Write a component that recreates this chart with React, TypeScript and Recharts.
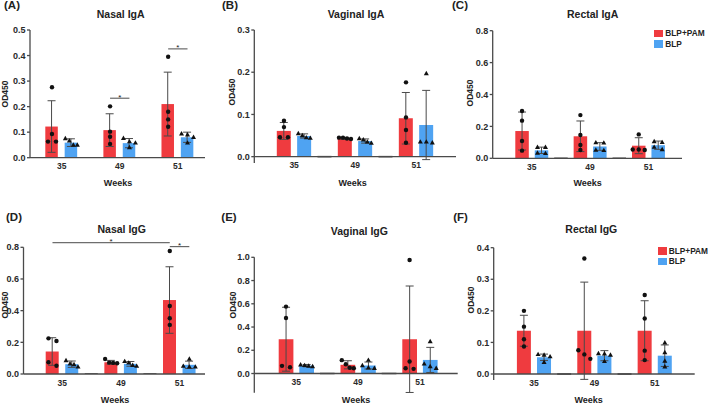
import React from 'react';
import { ComposedChart, Bar, Scatter, XAxis, YAxis, ErrorBar, ReferenceLine } from 'recharts';

const weeks = ['35', '49', '51'];
const groupNames = ['BLP+PAM', 'BLP'];

// (A) Nasal IgA
const nasalIgaPam = [0.122, 0.108, 0.21];
const nasalIgaPamSd = [0.101, 0.064, 0.125];
const nasalIgaBlp = [0.059, 0.057, 0.08];
const nasalIgaBlpSd = [0.015, 0.018, 0.02];
const nasalIgaPamPts = [[0.276, 0.093, 0.063, 0.063], [0.201, 0.102, 0.082, 0.054], [0.395, 0.18, 0.15, 0.121]];
const nasalIgaBlpPts = [[0.075, 0.066, 0.05, 0.05], [0.076, 0.063, 0.058, 0.04], [0.094, 0.09, 0.08, 0.058]];
const nasalIgaSig = [
  { from: '49|pam', to: '49|blp', y: 0.233 },
  { from: '51|pam', to: '51|blp', y: 0.426 },
];

// (B) Vaginal IgA
const vaginalIgaPam = [0.061, 0.043, 0.091];
const vaginalIgaPamSd = [0.02, 0.002, 0.061];
const vaginalIgaBlp = [0.049, 0.037, 0.075];
const vaginalIgaBlpSd = [0.005, 0.005, 0.082];
const vaginalIgaPamPts = [[0.085, 0.07, 0.046, 0.046], [0.045, 0.045, 0.043, 0.042], [0.176, 0.093, 0.063, 0.033]];
const vaginalIgaBlpPts = [[0.055, 0.05, 0.045, 0.044], [0.043, 0.04, 0.035, 0.032], [0.197, 0.035, 0.035, 0.033]];

// (C) Rectal IgA
const rectalIgaPam = [0.171, 0.138, 0.079];
const rectalIgaPamSd = [0.119, 0.096, 0.05];
const rectalIgaBlp = [0.05, 0.074, 0.082];
const rectalIgaBlpSd = [0.02, 0.024, 0.026];
const rectalIgaPamPts = [[0.297, 0.236, 0.108, 0.048], [0.271, 0.146, 0.083, 0.052], [0.15, 0.055, 0.055, 0.052]];
const rectalIgaBlpPts = [[0.069, 0.069, 0.033, 0.031], [0.098, 0.097, 0.052, 0.05], [0.105, 0.1, 0.07, 0.055]];

// (D) Nasal IgG
const nasalIggPam = [0.142, 0.074, 0.467];
const nasalIggPamSd = [0.087, 0.012, 0.21];
const nasalIggBlp = [0.062, 0.064, 0.058];
const nasalIggBlpSd = [0.02, 0.015, 0.023];
const nasalIggPamPts = [[0.225, 0.208, 0.074, 0.052], [0.095, 0.072, 0.07, 0.068], [0.777, 0.429, 0.352, 0.31]];
const nasalIggBlpPts = [[0.085, 0.065, 0.06, 0.045], [0.08, 0.07, 0.055, 0.05], [0.095, 0.05, 0.045, 0.045]];
const nasalIggSig = [
  { from: '35|pam', to: '51|pam', y: 0.829 },
  { from: '51|pam', to: '51|blp', y: 0.804 },
];

// (E) Vaginal IgG
const vaginalIggPam = [0.295, 0.075, 0.295];
const vaginalIggPamSd = [0.275, 0.035, 0.458];
const vaginalIggBlp = [0.068, 0.069, 0.117];
const vaginalIggBlpSd = [0.01, 0.03, 0.108];
const vaginalIggPamPts = [[0.576, 0.478, 0.066, 0.054], [0.115, 0.08, 0.05, 0.046], [0.977, 0.103, 0.046, 0.04]];
const vaginalIggBlpPts = [[0.075, 0.07, 0.065, 0.06], [0.115, 0.069, 0.05, 0.046], [0.275, 0.083, 0.06, 0.046]];

// (F) Rectal IgG
const rectalIggPam = [0.137, 0.137, 0.137];
const rectalIggPamSd = [0.049, 0.154, 0.095];
const rectalIggBlp = [0.053, 0.058, 0.058];
const rectalIggBlpSd = [0.01, 0.016, 0.034];
const rectalIggPamPts = [[0.2, 0.15, 0.11, 0.087], [0.366, 0.075, 0.062, 0.048], [0.25, 0.176, 0.074, 0.044]];
const rectalIggBlpPts = [[0.062, 0.06, 0.055, 0.037], [0.065, 0.064, 0.06, 0.04], [0.099, 0.068, 0.041, 0.023]];

const RED = '#EF3B3F';
const BLUE = '#4FA3F2';
const INK = '#4a4a4a';
const FONT = '"Liberation Sans", Arial, sans-serif';

const buildRows = (pam: number[], pamSd: number[], blp: number[], blpSd: number[]) =>
  weeks.flatMap((w, i) => {
    const r: any[] = [
      { slot: `${w}|pam`, label: w, kind: 'pam', mean: pam[i], err: pamSd[i] },
      { slot: `${w}|blp`, kind: 'blp', mean: blp[i], err: blpSd[i] },
    ];
    if (i < weeks.length - 1) r.push({ slot: `${w}|gap`, kind: 'gap', mean: 0 });
    return r;
  });

// spread points that sit at nearly the same height
const buildPoints = (pamPts: number[][], blpPts: number[][], span: number) => {
  const out: any[] = [];
  weeks.forEach((w, i) => {
    [['pam', pamPts[i]], ['blp', blpPts[i]]].forEach(([kind, vals]: any) => {
      const sorted = [...vals].sort((a, b) => b - a);
      let cluster: number[] = [];
      const flush = () => {
        const n = cluster.length;
        const gap = n === 2 ? 8 : n > 1 ? 12 / (n - 1) : 0;
        cluster.forEach((v, j) => out.push({ slot: `${w}|${kind}`, kind, v, dx: (j - (n - 1) / 2) * gap }));
        cluster = [];
      };
      sorted.forEach((v) => {
        if (cluster.length && cluster[cluster.length - 1] - v > span * 0.035) flush();
        cluster.push(v);
      });
      flush();
    });
  });
  return out;
};

const panels = [
  {
    key: 'A', title: 'Nasal IgA', domain: [0, 0.5], ticks: [0, 0.1, 0.2, 0.3, 0.4, 0.5],
    rows: buildRows(nasalIgaPam, nasalIgaPamSd, nasalIgaBlp, nasalIgaBlpSd),
    pts: buildPoints(nasalIgaPamPts, nasalIgaBlpPts, 0.5), sig: nasalIgaSig,
    box: { left: 0, top: 0, w: 236, h: 200 }, x0: 30, x1: 205, yTop: 30, yBot: 157.7, padL: 12.3, padR: 7.8, barW: 12.5,
    letter: [12, 6], titlePos: [120.7, 14], yLab: [5, 94], weeksPos: [118, 183],
  },
  {
    key: 'B', title: 'Vaginal IgA', domain: [-0.015, 0.3], ticks: [0, 0.1, 0.2, 0.3],
    rows: buildRows(vaginalIgaPam, vaginalIgaPamSd, vaginalIgaBlp, vaginalIgaBlpSd),
    pts: buildPoints(vaginalIgaPamPts, vaginalIgaBlpPts, 0.3), sig: [],
    box: { left: 236, top: 0, w: 236, h: 200 }, x0: 254.3, x1: 456, yTop: 30, yBot: 163, padL: 19.5, padR: 19.5, barW: 14,
    letter: [230, 6], titlePos: [356, 14], yLab: [232, 92], weeksPos: [352.7, 183],
  },
  {
    key: 'C', title: 'Rectal IgA', domain: [0, 0.8], ticks: [0, 0.2, 0.4, 0.6, 0.8],
    rows: buildRows(rectalIgaPam, rectalIgaPamSd, rectalIgaBlp, rectalIgaBlpSd),
    pts: buildPoints(rectalIgaPamPts, rectalIgaBlpPts, 0.8), sig: [],
    box: { left: 472, top: 0, w: 237, h: 200 }, x0: 492.7, x1: 682, yTop: 30.7, yBot: 158.3, padL: 19.6, padR: 14.1, barW: 13.5,
    letter: [460, 6], titlePos: [592.7, 14], yLab: [470, 93], weeksPos: [587.7, 183.3], legend: [654.3, 29.3],
  },
  {
    key: 'D', title: 'Nasal IgG', domain: [0, 0.8], ticks: [0, 0.2, 0.4, 0.6, 0.8],
    rows: buildRows(nasalIggPam, nasalIggPamSd, nasalIggBlp, nasalIggBlpSd),
    pts: buildPoints(nasalIggPamPts, nasalIggBlpPts, 0.8), sig: nasalIggSig,
    box: { left: 0, top: 200, w: 236, h: 204 }, x0: 23.5, x1: 205, yTop: 247.3, yBot: 374, padL: 19.2, padR: 5.9, barW: 13,
    letter: [14, 217.5], titlePos: [121.7, 229.3], yLab: [5, 305], weeksPos: [115, 400],
  },
  {
    key: 'E', title: 'Vaginal IgG', domain: [-0.165, 1.0], ticks: [0, 0.2, 0.4, 0.6, 0.8, 1.0],
    rows: buildRows(vaginalIggPam, vaginalIggPamSd, vaginalIggBlp, vaginalIggBlpSd),
    pts: buildPoints(vaginalIggPamPts, vaginalIggBlpPts, 1.0), sig: [],
    box: { left: 236, top: 200, w: 236, h: 204 }, x0: 254.3, x1: 457.7, yTop: 257.3, yBot: 392.7, padL: 21.4, padR: 17.2, barW: 14.7,
    letter: [229, 217.5], titlePos: [359.3, 230.7], yLab: [233, 305], weeksPos: [356, 400],
  },
  {
    key: 'F', title: 'Rectal IgG', domain: [-0.019, 0.4], ticks: [0, 0.1, 0.2, 0.3, 0.4],
    rows: buildRows(rectalIggPam, rectalIggPamSd, rectalIggBlp, rectalIggBlpSd),
    pts: buildPoints(rectalIggPamPts, rectalIggBlpPts, 0.4), sig: [],
    box: { left: 472, top: 200, w: 237, h: 204 }, x0: 493.7, x1: 694.7, yTop: 247.7, yBot: 380, padL: 20.2, padR: 19.8, barW: 14,
    letter: [460.5, 218], titlePos: [591.3, 229.3], yLab: [471, 300], weeksPos: [588.7, 400], legend: [657.7, 246.7],
  },
];

const XH = 8;

const barShape = (props: any) => {
  const { x, y, width, height, payload } = props;
  if (payload.kind === 'gap') {
    return <line x1={x} x2={x + width} y1={y} y2={y} stroke={INK} strokeWidth={1.6} />;
  }
  return <rect x={x} y={y} width={width} height={height} fill={payload.kind === 'pam' ? RED : BLUE} />;
};

const dotShape = (props: any) => {
  const { cx, cy, payload } = props;
  const x = cx + (payload.dx || 0);
  if (payload.kind === 'blp') {
    return <path d={`M${x},${cy - 2.7}L${x + 2.5},${cy + 1.7}L${x - 2.5},${cy + 1.7}Z`} fill="#111" />;
  }
  return <circle cx={x} cy={cy} r={2.2} fill="#111" />;
};

const starLabel = (props: any) => {
  const vb = props.viewBox || {};
  return (
    <text x={(vb.x || 0) + (vb.width || 0) / 2} y={(vb.y || 0) + 1.5} textAnchor="middle"
      fontSize={8} fontFamily={FONT} fill="#222">*</text>
  );
};

const Panel = ({ p }: { p: any }) => {
  const { box } = p;
  const [min, max] = p.domain;
  const step = (p.x1 - p.x0 - p.padL - p.padR) / p.rows.length;
  const zeroUp = ((p.yBot - p.yTop) * (0 - min)) / (max - min);
  const margin = {
    top: p.yTop - box.top,
    right: box.left + box.w - p.x1,
    bottom: box.top + box.h - p.yBot - XH,
    left: 0,
  };

  const renderTick = (props: any) => {
    const { x, y, payload } = props;
    const row = p.rows.find((r: any) => r.slot === payload.value);
    if (!row || !row.label) return <g />;
    return (
      <text x={x + step / 2} y={y - zeroUp + 8.6} dy="0.35em" textAnchor="middle"
        fontSize={8.5} fontWeight="bold" fill="#2a2a2a" fontFamily={FONT}>
        {row.label}
      </text>
    );
  };

  return (
    <div style={{ position: 'absolute', left: box.left, top: box.top, width: box.w, height: box.h }}>
      <ComposedChart width={box.w} height={box.h} data={p.rows} margin={margin}>
        <XAxis dataKey="slot" type="category" allowDuplicatedCategory={false} interval={0}
          padding={{ left: p.padL, right: p.padR }} height={XH}
          axisLine={false} tickLine={false} tickSize={0} tickMargin={0} tick={renderTick} />
        <YAxis type="number" width={p.x0 - box.left} domain={p.domain} ticks={p.ticks} allowDataOverflow
          tickFormatter={(v: number) => v.toFixed(1)} tickSize={3} tickMargin={1.5}
          tick={{ fontSize: 9, fontWeight: 'bold', fill: '#2a2a2a', fontFamily: FONT }}
          axisLine={{ stroke: INK, strokeWidth: 1.3 }} tickLine={{ stroke: INK, strokeWidth: 1.3 }} />
        <ReferenceLine y={0} stroke={INK} strokeWidth={1.3} />
        <Bar dataKey="mean" barSize={p.barW} isAnimationActive={false} shape={barShape}>
          <ErrorBar dataKey="err" width={4} stroke={INK} strokeWidth={1} />
        </Bar>
        <Scatter data={p.pts} dataKey="v" isAnimationActive={false} shape={dotShape} />
        {p.sig.map((s: any, i: number) => (
          <ReferenceLine key={i} segment={[{ x: s.from, y: s.y }, { x: s.to, y: s.y }]}
            stroke={INK} strokeWidth={1} ifOverflow="visible" label={starLabel} />
        ))}
      </ComposedChart>
    </div>
  );
};

const centered = (x: number, y: number, extra: any = {}) => ({
  position: 'absolute' as const, left: x, top: y, transform: 'translate(-50%, -50%)',
  whiteSpace: 'nowrap' as const, fontFamily: FONT, fontWeight: 'bold' as const, color: '#222', lineHeight: 1, ...extra,
});

const Legend = ({ at }: { at: number[] }) => (
  <>
    {groupNames.map((g, i) => (
      <div key={g} style={{ position: 'absolute', left: at[0], top: at[1] + i * 10.4, display: 'flex', alignItems: 'center' }}>
        <div style={{ width: 9, height: 7.4, background: i === 0 ? RED : BLUE }} />
        <span style={{ marginLeft: 2, fontFamily: FONT, fontWeight: 'bold', fontSize: 8.3, color: '#222', lineHeight: 1 }}>{g}</span>
      </div>
    ))}
  </>
);

export default function App() {
  return (
    <div style={{ position: 'absolute', left: 0, top: 0, width: 709, height: 404, background: '#fff', overflow: 'hidden' }}>
      {panels.map((p) => (
        <React.Fragment key={p.key}>
          <Panel p={p} />
          <div style={centered(p.letter[0], p.letter[1], { fontSize: 11.5 })}>({p.key})</div>
          <div style={centered(p.titlePos[0], p.titlePos[1], { fontSize: 10.5 })}>{p.title}</div>
          <div style={centered(p.yLab[0], p.yLab[1], { fontSize: 8.5, transform: 'translate(-50%, -50%) rotate(-90deg)' })}>OD450</div>
          <div style={centered(p.weeksPos[0], p.weeksPos[1], { fontSize: 9 })}>Weeks</div>
          {p.legend && <Legend at={p.legend} />}
        </React.Fragment>
      ))}
    </div>
  );
}
